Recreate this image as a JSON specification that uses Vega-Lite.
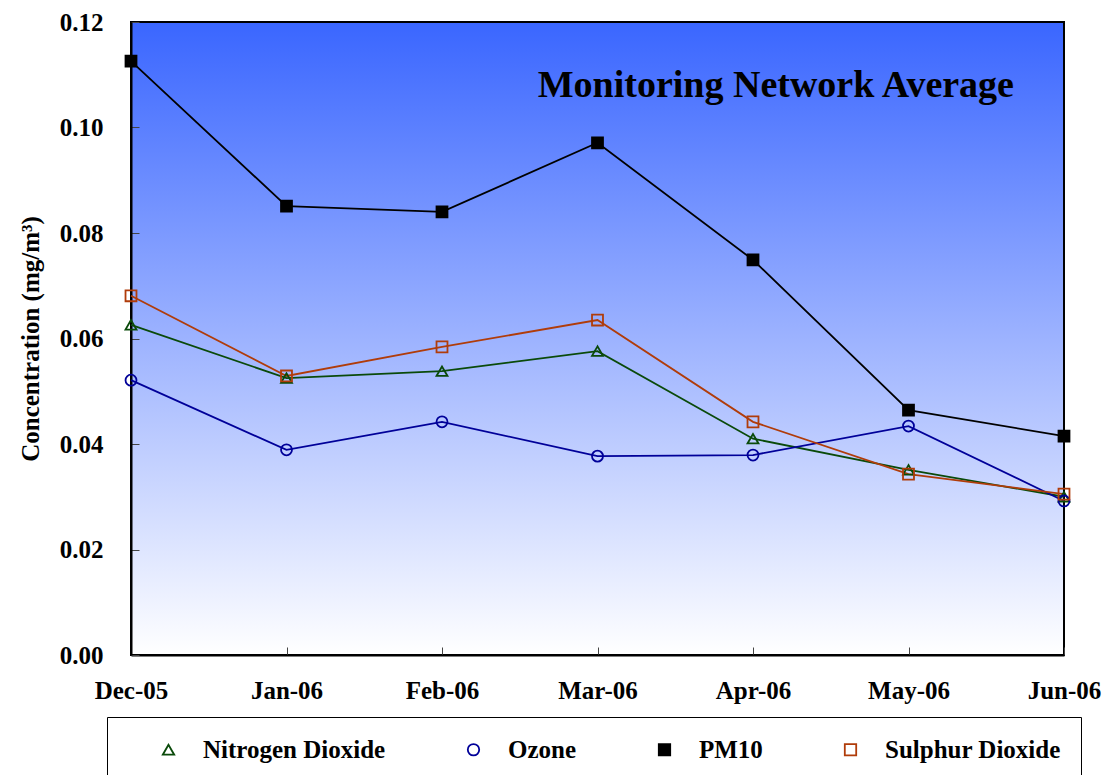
{
  "$schema": "https://vega.github.io/schema/vega-lite/v6.json",
  "width": 933,
  "height": 633,
  "autosize": "none",
  "padding": {"left": 131, "top": 22, "right": 41, "bottom": 120},
  "background": "white",
  "config": {
    "font": "Liberation Serif",
    "view": {
      "fill": {"gradient": "linear", "x1": 0, "y1": 0, "x2": 0, "y2": 1,
        "stops": [{"offset": 0, "color": "#3a66ff"}, {"offset": 1, "color": "#ffffff"}]},
      "stroke": "#000000",
      "strokeWidth": 2
    },
    "axis": {
      "labelFont": "Liberation Serif", "labelFontWeight": "bold", "labelFontSize": 25, "labelColor": "#000000",
      "titleFont": "Liberation Serif", "titleFontWeight": "bold", "titleFontSize": 25, "titleColor": "#000000",
      "domainColor": "#000000", "domainWidth": 2, "tickColor": "#444444", "tickWidth": 1, "grid": false
    }
  },
  "title": {
    "text": "Monitoring Network Average",
    "anchor": "end",
    "frame": "group",
    "font": "Liberation Serif",
    "fontWeight": "bold",
    "fontSize": 38,
    "color": "#000000",
    "baseline": "alphabetic",
    "offset": 0,
    "dx": -50,
    "dy": 125
  },
  "data": {
    "values": [
      {"month": "Dec-05", "series": "Nitrogen Dioxide", "value": 0.0626},
      {"month": "Jan-06", "series": "Nitrogen Dioxide", "value": 0.0525},
      {"month": "Feb-06", "series": "Nitrogen Dioxide", "value": 0.0538},
      {"month": "Mar-06", "series": "Nitrogen Dioxide", "value": 0.0576},
      {"month": "Apr-06", "series": "Nitrogen Dioxide", "value": 0.0410},
      {"month": "May-06", "series": "Nitrogen Dioxide", "value": 0.0351},
      {"month": "Jun-06", "series": "Nitrogen Dioxide", "value": 0.0300},
      {"month": "Dec-05", "series": "Ozone", "value": 0.0521},
      {"month": "Jan-06", "series": "Ozone", "value": 0.0389},
      {"month": "Feb-06", "series": "Ozone", "value": 0.0442},
      {"month": "Mar-06", "series": "Ozone", "value": 0.0377},
      {"month": "Apr-06", "series": "Ozone", "value": 0.0379},
      {"month": "May-06", "series": "Ozone", "value": 0.0434},
      {"month": "Jun-06", "series": "Ozone", "value": 0.0292},
      {"month": "Dec-05", "series": "PM10", "value": 0.1126},
      {"month": "Jan-06", "series": "PM10", "value": 0.0851},
      {"month": "Feb-06", "series": "PM10", "value": 0.0840},
      {"month": "Mar-06", "series": "PM10", "value": 0.0971},
      {"month": "Apr-06", "series": "PM10", "value": 0.0749},
      {"month": "May-06", "series": "PM10", "value": 0.0464},
      {"month": "Jun-06", "series": "PM10", "value": 0.0415},
      {"month": "Dec-05", "series": "Sulphur Dioxide", "value": 0.0681},
      {"month": "Jan-06", "series": "Sulphur Dioxide", "value": 0.0529},
      {"month": "Feb-06", "series": "Sulphur Dioxide", "value": 0.0584},
      {"month": "Mar-06", "series": "Sulphur Dioxide", "value": 0.0635},
      {"month": "Apr-06", "series": "Sulphur Dioxide", "value": 0.0442},
      {"month": "May-06", "series": "Sulphur Dioxide", "value": 0.0343},
      {"month": "Jun-06", "series": "Sulphur Dioxide", "value": 0.0305}
    ]
  },
  "encoding": {
    "x": {
      "field": "month", "type": "ordinal",
      "sort": ["Dec-05", "Jan-06", "Feb-06", "Mar-06", "Apr-06", "May-06", "Jun-06"],
      "scale": {"type": "point", "padding": 0},
      "axis": {"title": null, "labelAngle": 0, "tickSize": -8, "labelPadding": 31, "domain": true}
    },
    "y": {
      "field": "value", "type": "quantitative",
      "scale": {"domain": [0, 0.12], "nice": false, "zero": true},
      "axis": {"title": "Concentration (mg/m³)", "values": [0, 0.02, 0.04, 0.06, 0.08, 0.1, 0.12], "format": ".2f", "tickSize": -8, "labelPadding": 36, "titlePadding": 16}
    },
    "color": {
      "field": "series", "type": "nominal",
      "scale": {"domain": ["Nitrogen Dioxide", "Ozone", "PM10", "Sulphur Dioxide"], "range": ["#0a4a0a", "#000099", "#000000", "#b03c0a"]},
      "legend": {
        "title": null,
        "orient": "none",
        "legendX": -24,
        "legendY": 695,
        "direction": "horizontal",
        "columns": 4,
        "columnPadding": 46,
        "padding": 20,
        "strokeColor": "#000000",
        "fillColor": "#ffffff",
        "labelFont": "Liberation Serif",
        "labelFontWeight": "bold",
        "labelFontSize": 25,
        "labelColor": "#000000",
        "labelLimit": 400,
        "symbolOffset": 29,
        "labelOffset": 22,
        "symbolSize": 130,
        "symbolStrokeWidth": 1.8
      }
    }
  },
  "layer": [
    {
      "mark": {"type": "line", "strokeWidth": 1.8}
    },
    {
      "mark": {"type": "point", "filled": true, "size": 120, "strokeWidth": 1.8, "opacity": 1},
      "encoding": {
        "shape": {
          "field": "series", "type": "nominal",
          "scale": {"domain": ["Nitrogen Dioxide", "Ozone", "PM10", "Sulphur Dioxide"], "range": ["triangle-up", "circle", "square", "square"]},
          "legend": null
        },
        "fill": {
          "field": "series", "type": "nominal",
          "scale": {"domain": ["Nitrogen Dioxide", "Ozone", "PM10", "Sulphur Dioxide"], "range": ["transparent", "transparent", "#000000", "transparent"]},
          "legend": null
        },
        "stroke": {
          "field": "series", "type": "nominal",
          "scale": {"domain": ["Nitrogen Dioxide", "Ozone", "PM10", "Sulphur Dioxide"], "range": ["#0a4a0a", "#000099", "#000000", "#b03c0a"]},
          "legend": null
        }
      }
    }
  ]
}
